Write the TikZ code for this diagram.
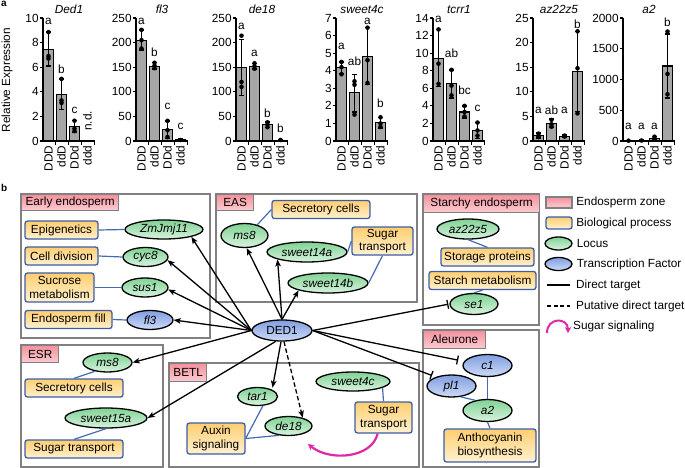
\documentclass[tikz,border=0pt]{standalone}
\usepackage{fontspec}
\setmainfont{Liberation Sans}
\usetikzlibrary{positioning,arrows.meta,shapes.geometric}

\definecolor{zonegray}{RGB}{128,128,128}
\definecolor{procblue}{RGB}{60,94,168}
\definecolor{linkblue}{RGB}{70,105,180}
\definecolor{tabtop}{RGB}{244,146,157}
\definecolor{tabbot}{RGB}{252,204,209}
\definecolor{proctop}{RGB}{255,206,112}
\definecolor{procbot}{RGB}{255,241,208}
\definecolor{locustop}{RGB}{128,210,148}
\definecolor{locusbot}{RGB}{216,243,223}
\definecolor{tftop}{RGB}{128,158,224}
\definecolor{tfbot}{RGB}{206,219,247}
\definecolor{sigmag}{RGB}{222,40,168}
\definecolor{bargray}{RGB}{166,166,166}

\newcommand{\figfont}{\fontsize{11.8}{13.5}\selectfont}
% axes, ticks, genotypes and title of one chart
\newcommand{\exprframe}[3]{%
  \draw[axisline] (0,#1) -- (0,0) -- (52,0);
  \foreach \tickval in {#2} \draw[axisline] (0,\tickval) -- ++(-3pt,0pt) node[ticklbl] (tick\tickval) {\tickval};
  \foreach \slotnum in {1,2,3,4} \draw[axisline] ({13*\slotnum-0.8},0) -- ++(0pt,-3.5pt);
  \foreach \slotnum/\geno in {0/DDD,1/ddD,2/DDd,3/ddd} \node[catlbl] (geno\slotnum) at ({13*\slotnum+5.5},0) {\geno};
  \node[charttitle] (title) at (26,#1) {#3};
}
% one bar: slot, mean, low, high, points, letter height, letter
\newcommand{\exprbar}[7]{%
  \filldraw[barbox] ({13*#1+0.5},0) rectangle ({13*#1+10.5},#2);
  \draw[errbar] ({13*#1+5.5},#3) -- ({13*#1+5.5},#4)
    ({13*#1+3},#3) -- ({13*#1+8},#3)
    ({13*#1+3},#4) -- ({13*#1+8},#4);
  \foreach \dotval in {#5} \fill ({13*#1+5.5},\dotval) circle[radius=2.3pt];
  \node[sigletter] (sig#1) at ({13*#1+5.5},#6) {#7};
}

\begin{document}
\begin{tikzpicture}[x=1pt, y=-1pt, font=\figfont,
  zone/.style={draw=zonegray, line width=1.8pt},
  zonetab/.style={draw=zonegray, line width=1.3pt, top color=tabtop, bottom color=tabbot,
    anchor=north west, inner sep=0pt, minimum height=16pt, font=\figfont},
  proc/.style={draw=procblue, line width=1.3pt, rounded corners=2.5pt, top color=proctop,
    bottom color=procbot, inner sep=1pt, align=center, minimum height=18pt, font=\figfont},
  locus/.style={ellipse, draw=black, line width=1.3pt, top color=locustop, bottom color=locusbot,
    inner sep=0pt, minimum height=19pt, font=\figfont\itshape},
  tf/.style={locus, top color=tftop, bottom color=tfbot},
  link/.style={draw=linkblue, line width=1.2pt},
  target/.style={line width=1.3pt, -{Stealth[length=7pt,width=5.5pt,inset=1.5pt]}},
  repress/.style={line width=1.3pt, -{Bar[width=9pt]}},
  sugsig/.style={draw=sigmag, line width=2.2pt, -{Stealth[length=6pt,width=6.5pt]}},
  axisline/.style={line width=1.2pt},
  barbox/.style={fill=bargray, draw=black, line width=1.1pt},
  errbar/.style={line width=1.4pt},
  ticklbl/.style={anchor=east, inner sep=0.8pt, font=\figfont},
  catlbl/.style={yshift=-4pt, rotate=90, anchor=east, inner sep=0.5pt, font=\figfont},
  sigletter/.style={inner sep=0pt, font=\figfont},
  charttitle/.style={anchor=south, yshift=3pt, inner sep=1pt, font=\figfont\itshape},
  legtext/.style={inner sep=0pt, anchor=west, font=\figfont}]
\useasboundingbox (0,0) rectangle (685,468);

% panel a
\node[font=\fontsize{10}{12}\selectfont\bfseries, anchor=north west, inner sep=0pt] (lbla) at (1,1) {a};
\node[rotate=90] (relexp) at (7,80) {Relative Expression};

\begin{scope}[xshift=43pt, yshift=-141pt, x=1pt, y=12.3pt]
  \exprbar{0}{7.45}{6.1}{8.85}{8.85,6.7,6.9}{9.7}{a}
  \exprbar{1}{3.8}{2.55}{5.05}{5.05,3.1,3.3}{5.8}{b}
  \exprbar{2}{1.15}{0.7}{1.65}{1.65,1.0,0.8}{2.5}{c}
  \node[yshift=10pt, rotate=90, anchor=west, inner sep=0pt] (nd) at (44.5,0) {n.d.};
  \exprframe{10}{0,2,4,6,8,10}{Ded1}
\end{scope}

\begin{scope}[xshift=136pt, yshift=-141pt, x=1pt, y=0.492pt]
  \exprbar{0}{205}{185}{226}{226,205,188}{244}{a}
  \exprbar{1}{152}{146}{159}{159,153,148}{181}{b}
  \exprbar{2}{23}{5}{41}{41,22,8}{70}{c}
  \exprbar{3}{2}{0}{4}{2}{29}{c}
  \exprframe{250}{0,50,100,150,200,250}{fl3}
\end{scope}

\begin{scope}[xshift=236pt, yshift=-141pt, x=1pt, y=0.492pt]
  \exprbar{0}{149}{92}{206}{214,120,110}{232}{a}
  \exprbar{1}{151}{146}{157}{158,152,147}{178}{a}
  \exprbar{2}{33}{27}{39}{38,33,28}{57}{b}
  \exprbar{3}{1.5}{0}{3}{2}{26}{b}
  \exprframe{250}{0,50,100,150,200,250}{de18}
\end{scope}

\begin{scope}[xshift=336pt, yshift=-141pt, x=1pt, y=17.571pt]
  \exprbar{0}{4.2}{3.85}{4.5}{4.5,4.2,3.8}{5.37}{a}
  \exprbar{1}{2.75}{1.65}{3.8}{3.4,1.5,3.2}{4.51}{ab}
  \exprbar{2}{4.8}{3.2}{6.45}{6.45,4.6,3.3}{6.8}{a}
  \exprbar{3}{1.05}{0.75}{1.35}{1.35,1.0,0.8}{2.15}{b}
  \exprframe{7}{0,1,2,3,4,5,6,7}{sweet4c}
\end{scope}

\begin{scope}[xshift=433pt, yshift=-141pt, x=1pt, y=8.786pt]
  \exprbar{0}{9.4}{6.2}{12.7}{12.7,8.8,6.5}{13.8}{a}
  \exprbar{1}{6.5}{4.9}{8.1}{8.1,6.3,5.2}{9.98}{ab}
  \exprbar{2}{3.3}{2.6}{4.0}{4.0,3.3,2.8}{5.73}{bc}
  \exprbar{3}{1.2}{0.3}{2.1}{2.1,1.2,0.6}{3.72}{c}
  \exprframe{14}{0,2,4,6,8,10,12,14}{tcrr1}
\end{scope}

\begin{scope}[xshift=533pt, yshift=-141pt, x=1pt, y=4.92pt]
  \exprbar{0}{1.1}{0.6}{1.6}{1.5,1.0,0.8}{6.3}{a}
  \exprbar{1}{3.6}{2.7}{4.5}{4.3,3.4,2.9}{6.3}{ab}
  \exprbar{2}{1.0}{0.8}{1.2}{1.1,0.9}{6.3}{a}
  \exprbar{3}{14.2}{6.0}{22.3}{22.3,14.8,5.6}{23.8}{b}
  \exprframe{25}{0,5,10,15,20,25}{az22z5}
\end{scope}

\begin{scope}[xshift=623pt, yshift=-141pt, x=1pt, y=0.0615pt]
  \exprbar{0}{5}{0}{10}{5}{244}{a}
  \exprbar{1}{8}{0}{15}{8}{244}{a}
  \exprbar{2}{40}{15}{70}{70,40,20}{244}{a}
  \exprbar{3}{1220}{700}{1740}{1780,1090,760}{1923}{b}
  \exprframe{2000}{0,500,1000,1500,2000}{a2}
\end{scope}

% panel b
\node[font=\fontsize{10}{12}\selectfont\bfseries, anchor=north west, inner sep=0pt] (lblb) at (1,184) {b};

% early endosperm
\draw[zone] (21,194) rectangle (210,338);
\node[zonetab, minimum width=97pt] (tabearly) at (21,194) {Early endosperm};
\node[proc, minimum width=73pt] (epi) at (61.5,230) {Epigenetics};
\node[proc, minimum width=73pt] (celldiv) at (61.5,256) {Cell division};
\node[proc, minimum width=69pt, minimum height=29pt] (sucmet) at (59.5,287.5) {Sucrose\\metabolism};
\node[proc, minimum width=87pt] (endofill) at (68.5,319.5) {Endosperm fill};
\node[locus, minimum width=78pt] (zmjmj11) at (164,229.5) {ZmJmj11};
\node[locus, minimum width=45pt] (cyc8) at (145.5,257) {cyc8};
\node[locus, minimum width=46pt] (sus1) at (145,287.5) {sus1};
\node[tf, minimum width=46pt] (fl3) at (150,320) {fl3};

% EAS
\draw[zone] (216,194) rectangle (417,302);
\node[zonetab, minimum width=37pt] (tabeas) at (216,194) {EAS};
\node[proc, minimum width=98pt] (seceas) at (321,209.5) {Secretory cells};
\node[locus, minimum width=47pt, minimum height=24pt] (ms8eas) at (244.5,235.5) {ms8};
\node[locus, minimum width=80pt, minimum height=20pt] (sweet14a) at (307,252) {sweet14a};
\node[proc, minimum width=61pt, minimum height=28pt] (sugeas) at (382.5,241) {Sugar\\transport};
\node[locus, minimum width=80pt, minimum height=20pt] (sweet14b) at (328,283) {sweet14b};

% starchy endosperm
\draw[zone] (423,194) rectangle (539,325);
\node[zonetab, minimum width=116pt, minimum height=18pt] (tabstarchy) at (423,194) {Starchy endosperm};
\node[locus, minimum width=62pt, minimum height=20pt] (az22z5) at (468,229) {az22z5};
\node[proc, minimum width=93pt] (storage) at (487.5,257) {Storage proteins};
\node[proc, minimum width=107pt] (starch) at (482.5,280.5) {Starch metabolism};
\node[locus, minimum width=48pt, minimum height=21pt] (se1) at (474,304) {se1};

% ESR
\draw[zone] (21,345) rectangle (163,467);
\node[zonetab, minimum width=37pt, minimum height=17pt] (tabesr) at (21,345) {ESR};
\node[locus, minimum width=49pt] (ms8esr) at (107.5,362.5) {ms8};
\node[proc, minimum width=98pt] (secesr) at (74,388) {Secretory cells};
\node[locus, minimum width=82pt, minimum height=20pt] (sweet15a) at (106,418) {sweet15a};
\node[proc, minimum width=98pt] (sugesr) at (74,449) {Sugar transport};

% BETL
\draw[zone] (169,363) rectangle (419,467);
\node[zonetab, minimum width=37pt, minimum height=18pt] (tabbetl) at (169,363) {BETL};
\node[locus, minimum width=40pt, minimum height=18pt] (tar1) at (257.5,396.5) {tar1};
\node[locus, minimum width=47pt] (de18) at (288.5,426) {de18};
\node[proc, minimum width=58pt, minimum height=31pt] (auxin) at (216,438.5) {Auxin\\signaling};
\node[locus, minimum width=74pt] (sweet4c) at (353,381.5) {sweet4c};
\node[proc, minimum width=57pt, minimum height=31pt] (sugbetl) at (383.5,417.5) {Sugar\\transport};

% aleurone
\draw[zone] (423,330) rectangle (539,467);
\node[zonetab, minimum width=62pt, minimum height=18pt] (tabaleurone) at (423,330) {Aleurone};
\node[tf, minimum width=49pt, minimum height=22pt] (c1) at (487.5,365.5) {c1};
\node[tf, minimum width=49pt, minimum height=22pt] (pl1) at (451.5,386) {pl1};
\node[locus, minimum width=49pt, minimum height=22pt] (a2) at (487.5,410.5) {a2};
\node[proc, minimum width=92pt, minimum height=33pt] (antho) at (490,445.5) {Anthocyanin\\biosynthesis};

\node[tf, font=\figfont, minimum width=60pt, minimum height=21pt] (ded1) at (282,330.5) {DED1};

% process links
\draw[link] (epi.east) -- (zmjmj11.west);
\draw[link] (celldiv.east) -- (cyc8.west);
\draw[link] (sucmet.east) -- (sus1.west);
\draw[link] (endofill.east) -- (fl3.west);
\draw[link] (seceas.west) -- (ms8eas.40);
\draw[link] (sugeas.west) -- (sweet14a.east);
\draw[link] (sugeas.south) -- (sweet14b.east);
\draw[link] (az22z5.south) -- (storage.north);
\draw[link] (starch.south) -- (se1.north);
\draw[link] (ms8esr.-145) -- (secesr.north);
\draw[link] (sweet15a.south) -- (sugesr.north);
\draw[link] (tar1.-60) -- (auxin.east);
\draw[link] (de18.-135) -- (auxin.east);
\draw[link] (sweet4c.-12) -- (sugbetl.north);
\draw[link] (c1.south) -- (a2.north);
\draw[link] (pl1.-50) -- (a2.140);
\draw[link] (a2.south) -- (antho.north);

% DED1 targets
\draw[target] (ded1.west) -- (zmjmj11.-15);
\draw[target] (ded1.west) -- (cyc8.-8);
\draw[target] (ded1.west) -- (sus1.-5);
\draw[target] (ded1.west) -- (fl3.east);
\draw[target] (ded1.west) -- (ms8esr.east);
\draw[target] (ded1.-120) -- (sweet15a.east);
\draw[target] (ded1.north) -- (ms8eas.-80);
\draw[target] (ded1.north) -- (sweet14a.-166);
\draw[target] (ded1.north) -- (sweet14b.-166);
\draw[target, shorten >=2pt] (ded1.-95) -- (tar1.25);
\draw[target, dash pattern=on 4.5pt off 2.5pt] (ded1.-80) -- (de18.30);
\draw[repress, shorten >=1pt] (ded1.east) -- (se1.west);
\draw[repress, shorten >=6pt] (ded1.east) -- (c1.170);
\draw[repress, shorten >=4pt] (ded1.east) -- (pl1.150);

% sugar signaling
\coordinate (sigend) at (308,444);
\draw[sugsig] (sugbetl.-110) .. controls (372,458) and (330,462) .. (sigend);

% legend
\node[zonetab, anchor=center, minimum width=26pt, minimum height=11pt] (legzone) at (559,202.5) {};
\node[legtext, right=3.5pt of legzone] (legzonetxt) {Endosperm zone};
\node[proc, minimum width=26pt, minimum height=12pt, inner sep=0pt] (legproc) at (559,223) {};
\node[legtext, right=3.5pt of legproc] (legproctxt) {Biological process};
\node[locus, minimum width=27pt, minimum height=13pt] (leglocus) at (558.5,243.5) {};
\node[legtext, right=4pt of leglocus] (leglocustxt) {Locus};
\node[tf, minimum width=27pt, minimum height=13pt] (legtf) at (558.5,264) {};
\node[legtext, right=4pt of legtf] (legtftxt) {Transcription Factor};
\coordinate (legdirA) at (547,285);
\coordinate (legdirB) at (570,285);
\draw[line width=1.3pt] (legdirA) -- (legdirB);
\node[legtext, right=6pt of legdirB] (legdirtxt) {Direct target};
\coordinate (legputA) at (547,306);
\coordinate (legputB) at (570,306);
\draw[line width=1.3pt, dash pattern=on 4pt off 2.5pt] (legputA) -- (legputB);
\node[legtext, right=6pt of legputB] (legputtxt) {Putative direct target};
\coordinate (legsigA) at (547,333);
\coordinate (legsigB) at (568,333);
\draw[sugsig, line width=2pt] (legsigA) .. controls (547,317) and (568,317) .. (legsigB);
\node[legtext] (legsigtxt) at (573,326) {Sugar signaling};
\end{tikzpicture}
\end{document}
